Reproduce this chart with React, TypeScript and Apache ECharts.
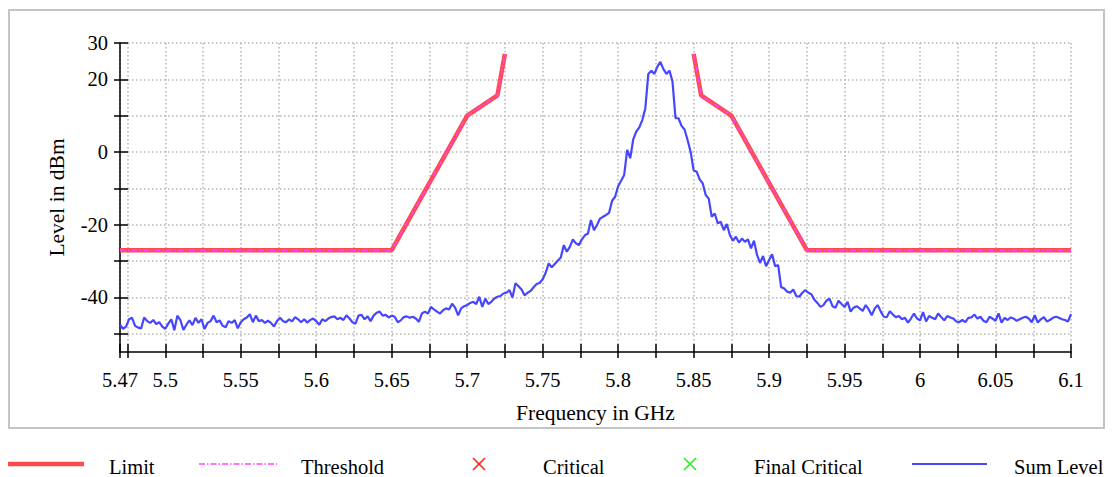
import React, { useEffect, useRef } from "react";
import * as echarts from "echarts";

// ---- axes ----
const X_MIN = 5.47;
const X_MAX = 6.1;
const X_TICKS = [5.47, 5.475, 5.5, 5.525, 5.55, 5.575, 5.6, 5.625, 5.65, 5.675, 5.7, 5.725, 5.75, 5.775, 5.8, 5.825, 5.85, 5.875, 5.9, 5.925, 5.95, 5.975, 6, 6.025, 6.05, 6.075, 6.1];
const X_LABELS = [5.47, 5.5, 5.55, 5.6, 5.65, 5.7, 5.75, 5.8, 5.85, 5.9, 5.95, 6, 6.05, 6.1];
const Y_MIN = -55;
const Y_MAX = 30;
const Y_TICKS = [-50, -40, -30, -20, -10, 0, 10, 20, 30];
const Y_LABELS = [-40, -20, 0, 20, 30];

// ---- limit / threshold (GHz, dBm); "-" breaks the line over the band ----
const LIMIT_FREQ = [5.47, 5.65, 5.7, 5.72, 5.725, 5.79, 5.85, 5.855, 5.875, 5.925, 6.1];
const LIMIT_LEVEL: (number | string)[] = [-27, -27, 10, 15.6, 27, "-", 27, 15.6, 10, -27, -27];
const THRESHOLD_FREQ = [5.47, 5.65, 5.7, 5.72, 5.725, 5.79, 5.85, 5.855, 5.875, 5.925, 6.1];
const THRESHOLD_LEVEL: (number | string)[] = [-27, -27, 10, 15.6, 27, "-", 27, 15.6, 10, -27, -27];

// ---- sum level sweep ----
const SWEEP_START = 5.47;
const SWEEP_STEP = 0.002;
const SUM_LEVEL = [
  -47.5, -48.6, -48.0, -46.0, -45.6, -47.8, -48.3, -48.5, -45.5, -46.5,
  -47.0, -46.2, -47.3, -46.8, -48.0, -48.6, -47.2, -46.0, -49.0, -45.0,
  -46.2, -48.9, -47.5, -46.3, -47.6, -45.6, -47.0, -46.0, -48.7, -47.0,
  -46.5, -45.0, -46.8, -46.3, -47.8, -48.2, -46.5, -47.0, -46.2, -48.5,
  -46.8, -46.0, -45.5, -44.6, -46.8, -45.0, -46.5, -46.2, -47.0, -46.4,
  -47.0, -48.0, -46.5, -45.6, -46.5, -46.8, -46.0, -46.6, -45.4, -46.0,
  -46.8, -46.0, -46.9, -46.2, -45.8, -46.5, -47.5, -46.0, -46.5, -45.8,
  -45.4, -45.2, -46.0, -45.6, -46.2, -44.9, -45.8, -46.8, -47.2, -45.0,
  -44.8, -46.0, -45.2, -46.5, -45.0, -44.2, -43.9, -45.0, -44.8, -45.5,
  -45.0, -45.3, -46.8, -46.3, -45.4, -45.2,
  -45.6, -45.3, -45.8, -46.7, -44.4, -43.9, -44.4, -42.6, -43.3, -43.9,
  -44.4, -43.5, -43.0, -43.3, -41.7, -42.8, -44.9, -43.0, -42.4, -42.1,
  -41.5, -41.2, -41.8, -39.8, -42.6, -40.3, -41.8, -41.2, -40.3, -39.8,
  -39.6, -38.9, -38.7, -38.0, -40.0, -36.1, -36.9, -37.8, -39.4, -38.7,
  -38.2, -37.2, -36.3, -36.0, -35.0, -33.2, -30.6, -31.7, -30.8, -29.9,
  -29.0, -25.6, -27.4, -26.1, -24.0, -25.1, -25.6, -24.0, -22.9, -22.4,
  -18.7, -21.5, -20.1, -18.3, -17.8, -17.3, -16.7, -13.4, -12.3, -9.4,
  -7.9, -6.3, 0.6, -1.7, 3.5, 5.6, 6.8, 8.8, 12.0, 21.5,
  22.4, 21.5, 23.5, 24.8, 22.8, 21.5, 22.4, 19.4, 9.3, 9.3,
  7.2, 6.2, 3.3, 0.1, -5.0, -5.4, -7.5, -8.6, -11.8, -12.8,
  -17.8, -16.9, -19.6, -19.2, -21.5, -19.8, -22.8, -24.4, -23.3, -24.9,
  -23.8, -24.7, -24.0, -26.5, -24.4, -28.3, -30.5, -28.6, -31.4, -29.7,
  -28.1, -31.4, -31.1, -37.2, -37.5, -38.4, -38.7, -37.8, -39.6, -39.8,
  -38.7, -38.0, -38.7, -39.1, -40.6, -41.5, -42.6, -42.1, -40.9, -40.3,
  -42.4, -42.8, -40.9, -41.8, -42.6, -41.2, -43.9, -42.8, -42.4, -43.0,
  -43.7, -42.1, -43.3, -44.9, -43.0, -42.1, -43.9, -45.3,
  -45.4, -43.8, -44.7, -45.4, -45.1, -46.0, -45.6, -46.9, -45.8, -44.4,
  -45.8, -46.3, -44.0, -46.6, -45.1, -45.6, -46.0, -44.4, -45.4, -46.3,
  -45.1, -45.5, -45.8, -46.6, -46.8, -46.2, -46.8, -45.6, -45.5, -44.7,
  -45.8, -45.3, -46.4, -46.8, -45.3, -45.8, -46.4, -44.4, -46.9, -45.6,
  -46.2, -45.5, -45.8, -46.4, -46.0, -45.6, -45.3, -45.8, -46.8, -44.9,
  -46.9, -46.0, -45.4, -46.6, -46.2, -45.6, -45.3, -45.6, -46.0, -46.2,
  -46.6, -44.6,
];

const LEGEND_NAMES = ["Limit", "Threshold", "Critical", "Final Critical", "Sum Level"];

const FONT = "'Liberation Serif', 'Times New Roman', serif";
const C_LIMIT = "#ff4b4b";
const C_THRESH = "#ff44ff";
const C_CRIT = "#ff2020";
const C_FINAL = "#22ee22";
const C_SUM = "#4646ff";

export default function App() {
  const ref = useRef<HTMLDivElement>(null);
  useEffect(() => {
    if (!ref.current) return;
    const chart = echarts.init(ref.current, null, { renderer: "svg" });
    const sum = SUM_LEVEL.map((v, i) => [+(SWEEP_START + i * SWEEP_STEP).toFixed(4), v]);
    const limit = LIMIT_FREQ.map((f, i) => [f, LIMIT_LEVEL[i]]);
    const thresh = THRESHOLD_FREQ.map((f, i) => [f, THRESHOLD_LEVEL[i]]);

    const axisLine = { show: true, onZero: false, lineStyle: { color: "#000", width: 1.5 } };
    const split = { show: true, lineStyle: { color: "#b4b4b4", width: 1.5, type: [1.5, 2.5] as any } };
    const text = { fontFamily: FONT, color: "#000" };

    const lgY = 464;
    const lgTextY = 466.5;
    const cross = (cx: number, cy: number, color: string) => ({
      type: "group",
      children: [
        { type: "line", shape: { x1: cx - 6, y1: cy - 6, x2: cx + 6, y2: cy + 6 }, style: { stroke: color, lineWidth: 1.6 } },
        { type: "line", shape: { x1: cx - 6, y1: cy + 6, x2: cx + 6, y2: cy - 6 }, style: { stroke: color, lineWidth: 1.6 } },
      ],
    });
    const lgText = (x: number, s: string) => ({
      type: "text",
      x,
      y: lgTextY,
      style: { text: s, fontFamily: FONT, fontSize: 20.5, fill: "#000", verticalAlign: "middle", align: "left" },
    });

    chart.setOption({
      animation: false,
      backgroundColor: "#fff",
      grid: { left: 120, right: 41, top: 43, bottom: 125, containLabel: false },
      xAxis: [
        {
          type: "value",
          min: X_MIN,
          max: X_MAX,
          name: "Frequency in GHz",
          nameLocation: "middle",
          nameGap: 50,
          nameTextStyle: { ...text, fontSize: 21.5 },
          axisLine,
          axisTick: { show: true, inside: false, length: 6, customValues: X_TICKS, lineStyle: { color: "#000", width: 1.5 } },
          axisLabel: { ...text, fontSize: 20.5, margin: 17, customValues: X_LABELS, showMinLabel: true, showMaxLabel: true },
          splitLine: split,
        },
        {
          type: "value",
          min: X_MIN,
          max: X_MAX,
          position: "bottom",
          axisLine: { show: false, onZero: false },
          axisTick: { show: true, inside: true, length: 8, customValues: X_TICKS, lineStyle: { color: "#000", width: 1.5 } },
          axisLabel: { show: false },
          splitLine: { show: false },
        },
      ],
      yAxis: [
        {
          type: "value",
          min: Y_MIN,
          max: Y_MAX,
          name: "Level in dBm",
          nameLocation: "middle",
          nameGap: 52,
          nameTextStyle: { ...text, fontSize: 21.5 },
          axisLine,
          axisTick: { show: true, inside: false, length: 6, customValues: Y_TICKS, lineStyle: { color: "#000", width: 1.5 } },
          axisLabel: { ...text, fontSize: 20.5, margin: 12, customValues: Y_LABELS },
          splitLine: split,
        },
        {
          type: "value",
          min: Y_MIN,
          max: Y_MAX,
          position: "left",
          axisLine: { show: false, onZero: false },
          axisTick: { show: true, inside: true, length: 8, customValues: Y_TICKS, lineStyle: { color: "#000", width: 1.5 } },
          axisLabel: { show: false },
          splitLine: { show: false },
        },
      ],
      series: [
        {
          name: LEGEND_NAMES[4],
          type: "line",
          data: sum,
          showSymbol: false,
          lineStyle: { color: C_SUM, width: 2.2 },
          z: 2,
        },
        {
          name: LEGEND_NAMES[0],
          type: "line",
          data: limit,
          showSymbol: false,
          connectNulls: false,
          lineStyle: { color: C_LIMIT, width: 4.5 },
          z: 3,
        },
        {
          name: LEGEND_NAMES[1],
          type: "line",
          data: thresh,
          showSymbol: false,
          connectNulls: false,
          lineStyle: { color: C_THRESH, width: 1.5, type: [6, 2, 1.5, 2] },
          z: 4,
        },
        { name: LEGEND_NAMES[2], type: "scatter", data: [], itemStyle: { color: C_CRIT } },
        { name: LEGEND_NAMES[3], type: "scatter", data: [], itemStyle: { color: C_FINAL } },
      ],
      graphic: [
        {
          type: "rect",
          shape: { x: 9, y: 10, width: 1095, height: 418 },
          style: { fill: "none", stroke: "#c4c4c4", lineWidth: 2 },
          z: -1,
        },
        { type: "line", shape: { x1: 8, y1: lgY, x2: 84, y2: lgY }, style: { stroke: C_LIMIT, lineWidth: 4.5 } },
        lgText(109, LEGEND_NAMES[0]),
        { type: "line", shape: { x1: 199, y1: lgY, x2: 277, y2: lgY }, style: { stroke: C_THRESH, lineWidth: 1.5, lineDash: [6, 2, 1.5, 2] } },
        lgText(301, LEGEND_NAMES[1]),
        cross(479, lgY, C_CRIT),
        lgText(543, LEGEND_NAMES[2]),
        cross(690, lgY, C_FINAL),
        lgText(754, LEGEND_NAMES[3]),
        { type: "line", shape: { x1: 912, y1: lgY, x2: 987, y2: lgY }, style: { stroke: C_SUM, lineWidth: 2 } },
        lgText(1014, LEGEND_NAMES[4]),
      ],
    });
    return () => chart.dispose();
  }, []);
  return (
    <div
      ref={ref}
      style={{ position: "fixed", left: 0, top: 0, width: 1112, height: 477, background: "#fff" }}
    />
  );
}
